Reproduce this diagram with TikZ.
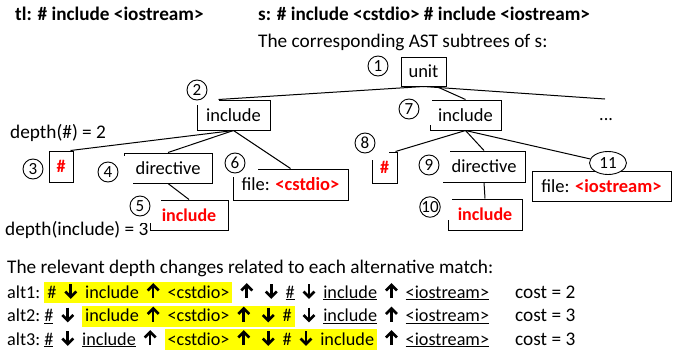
\documentclass[tikz,border=0pt]{standalone}
\usepackage{fontspec}
\setmainfont{Carlito}
\usetikzlibrary{shapes.geometric,calc}
\definecolor{hlyellow}{RGB}{255,255,0}
\definecolor{tred}{RGB}{255,0,0}
\newcommand\upa{\tikz[x=1pt,y=1pt,baseline=0pt,line width=2.6pt]{\useasboundingbox (-10.2,0) rectangle (10.2,13);\draw (0,0)--(0,13);\draw[line join=miter] (-5.5,7.5)--(0,13)--(5.5,7.5);}}
\newcommand\dna{\tikz[x=1pt,y=1pt,baseline=0pt,line width=2.6pt]{\useasboundingbox (-10.2,0) rectangle (10.2,13);\draw (0,14)--(0,1);\draw[line join=miter] (-5.5,6.5)--(0,1)--(5.5,6.5);}}
\newcommand\hlt[1]{{\setlength\fboxsep{0pt}\colorbox{hlyellow}{\rule[-5pt]{0pt}{21pt}\hspace{3pt}#1\hspace{3pt}}}}
\begin{document}
\begin{tikzpicture}[x=1pt,y=-1pt,
  box/.style={draw,line width=1pt,inner sep=0pt,font=\fontsize{18.5}{22}\selectfont},
  redbox/.style={box,text=tred,font=\fontsize{18}{22}\selectfont\bfseries},
  num/.style={draw,circle,line width=0.9pt,minimum size=20pt,inner sep=0pt,fill=white,font=\fontsize{17}{17}\selectfont},
  numell/.style={draw,ellipse,line width=0.9pt,minimum width=37pt,minimum height=23pt,inner sep=0pt,fill=white,font=\fontsize{17}{17}\selectfont},
  edge/.style={line width=1pt},
  txt/.style={inner sep=0pt,anchor=base west,font=\fontsize{18.2}{22}\selectfont},
  ltxt/.style={txt,font=\fontsize{19.3}{22}\selectfont},
  btxt/.style={txt,font=\fontsize{19.2}{22}\selectfont\bfseries},
  mask/.style={fill=white}]
\useasboundingbox (0,0) rectangle (688,351);

% titles
\node[btxt] (tl) at (15,20) {tl: \# include <iostream>};
\node[btxt] (s) at (258,20) {s: \# include <cstdio> \# include <iostream>};
\node[ltxt] (corr) at (258,47) {The corresponding AST subtrees of s:};
\node[ltxt] (d1) at (10,138) {depth(\#) = 2};
\node[ltxt] (d2) at (5,235) {depth(include) = 3};
\node[txt] (dots) at (599,120) {...};
\coordinate (dtop) at (605,99);

% boxes
\node[box,minimum width=45pt,minimum height=29pt] (unit) at (423.5,71.5) {unit};
\node[box,minimum width=73pt,minimum height=30pt] (inc2) at (233.5,115) {include};
\node[box,minimum width=71pt,minimum height=30pt] (inc7) at (465.5,115) {include};
\node[redbox,minimum width=24pt,minimum height=31pt] (hash3) at (61,166.5) {\#};
\node[box,minimum width=88pt,minimum height=30pt] (dir4) at (168,168) {directive};
\node[redbox,minimum width=78pt,minimum height=30pt] (inc5) at (189,215) {include};
\node[box,minimum width=115pt,minimum height=31pt] (file6) at (290.5,184.5) {file: \textcolor{tred}{\bfseries <cstdio>}};
\node[redbox,minimum width=25pt,minimum height=31pt] (hash8) at (384.5,167.5) {\#};
\node[box,minimum width=82pt,minimum height=31pt] (dir9) at (484,166.5) {directive};
\node[redbox,minimum width=74pt,minimum height=31pt] (inc10) at (485,214.5) {include};
\node[box,minimum width=139pt,minimum height=30pt] (file11) at (601.5,186) {file: \textcolor{tred}{\bfseries <iostream>}};

% masks (white label frames)
\fill[mask] (180,78) rectangle (219,105);
\fill[mask] (395,95) rectangle (432,125);
\fill[mask] (95,156) rectangle (133,190);
\fill[mask] (125,190) rectangle (160.5,223);
\fill[mask] (220,150) rectangle (258,177);
\fill[mask] (350,130) rectangle (389,160);
\fill[mask] (415,150) rectangle (450,181.5);
\fill[mask] (415,190) rectangle (452,220);

% circled numbers
\node[num] (c1) at (378,66) {1};
\node[num] (c2) at (197,90) {2};
\node[num] (c3) at (33,169) {3};
\node[num] (c4) at (108,172) {4};
\node[num] (c5) at (140,206) {5};
\node[num] (c6) at (235,163) {6};
\node[num] (c7) at (409,109) {7};
\node[num] (c8) at (365,143) {8};
\node[num] (c9) at (429,165) {9};
\node[num] (c10) at (430,207) {10};
\node[numell] (n11) at (608,163) {11};

% edges
\draw[edge] (unit.south) -- ($(inc2.north west)+(22,0)$);
\draw[edge] ($(unit.south)+(13,0)$) -- (inc7.north);
\draw[edge] (unit.south) -- (dtop);
\draw[edge] (inc2.south) -- ($(hash3.north east)+(-3,0)$);
\draw[edge] (inc2.south) -- (dir4.north);
\draw[edge] (inc2.south) -- (file6.north);
\draw[edge] (dir4.south) -- (inc5.north);
\draw[edge] (inc7.south) -- ($(hash8.north east)+(-2,0)$);
\draw[edge] (inc7.south) -- (dir9.north);
\draw[edge] (inc7.south) -- (n11);
\draw[edge] (dir9.south) -- (inc10.north);

% depth changes
\node[ltxt] (rel) at (7,273) {The relevant depth changes related to each alternative match:};
\node[txt] (alt1) at (7,298) {alt1:~\hlt{\#~\dna~include~\upa~<cstdio>}~\upa~\dna~\underline{\#}~\dna~\underline{include}~\upa~\underline{<iostream>}};
\node[txt] (alt2) at (7,321.5) {alt2:~\underline{\#}~\dna~\hlt{include~\upa~<cstdio>~\upa~\dna~\#}~\dna~\underline{include}~\upa~\underline{<iostream>}};
\node[txt] (alt3) at (7,345) {alt3:~\underline{\#}~\dna~\underline{include}~\upa~\hlt{<cstdio>~\upa~\dna~\#~\dna~include}~\upa~\underline{<iostream>}};
\node[ltxt] (cost1) at (515,298) {cost = 2};
\node[ltxt] (cost2) at (515,321.5) {cost = 3};
\node[ltxt] (cost3) at (515,345) {cost = 3};
\end{tikzpicture}
\end{document}
